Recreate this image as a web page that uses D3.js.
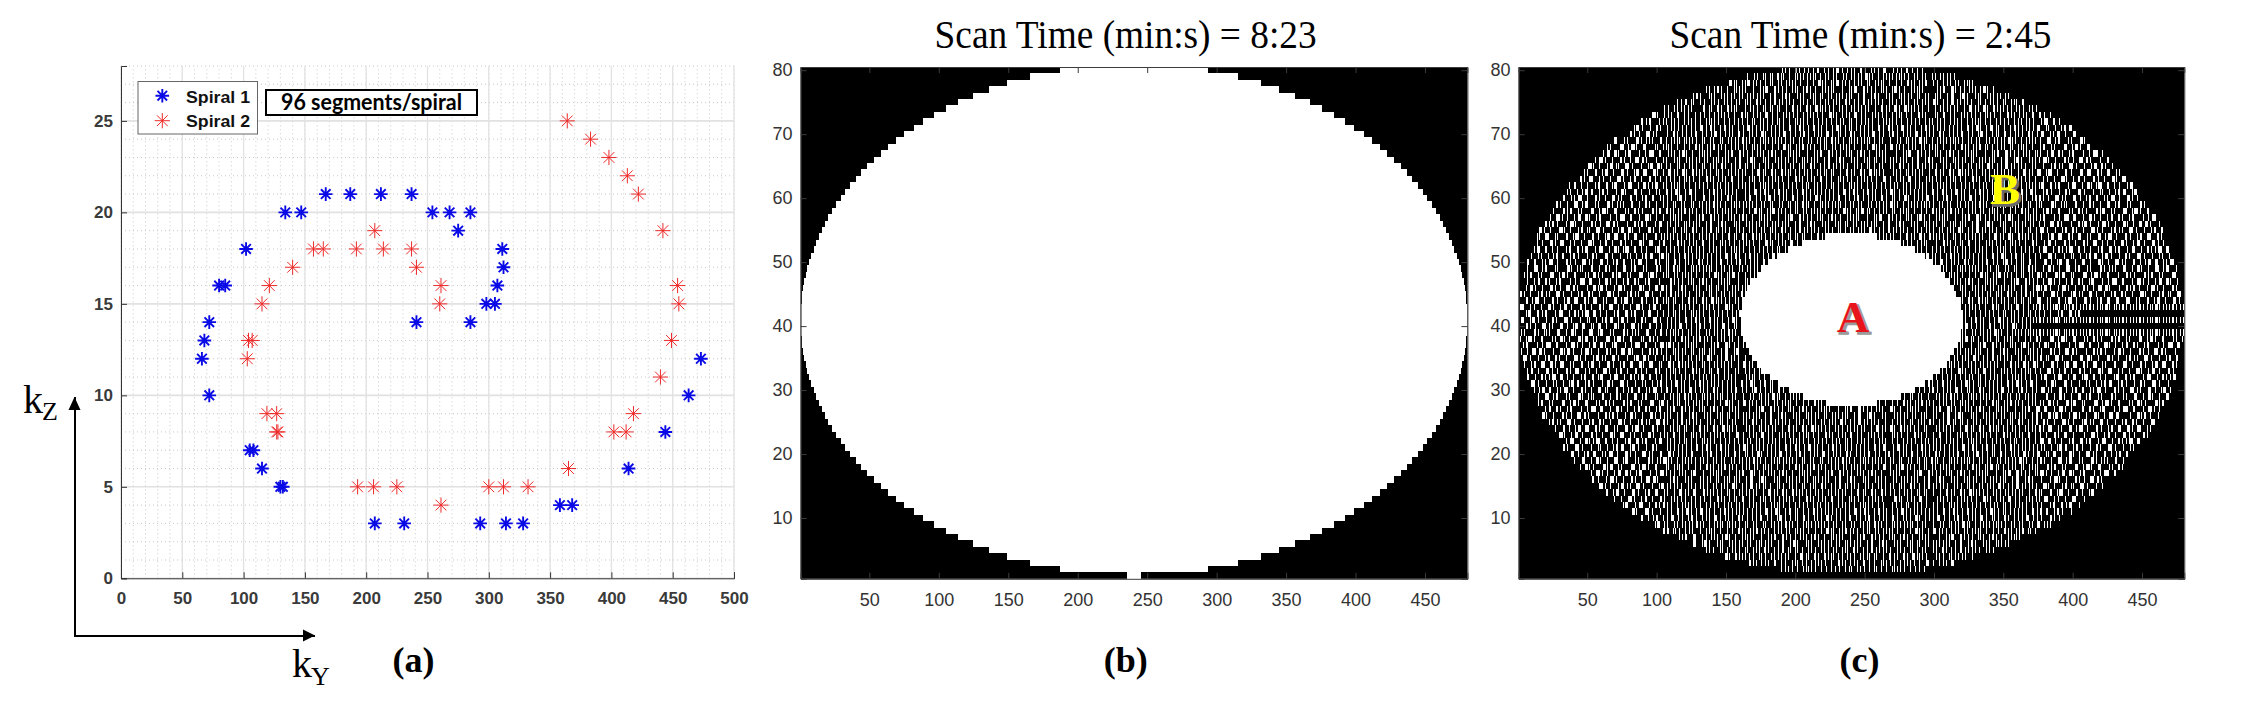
<!DOCTYPE html>
<html>
<head>
<meta charset="utf-8">
<script src="https://cdn.jsdelivr.net/npm/d3@7"></script>
<style>
  html, body { margin: 0; background: #fff; }
  svg { display: block; }
</style>
</head>
<body>
<svg></svg>
<script>
const width = 2266;
const height = 710;

// panel (a)
const spiral1Ky = [167,187,212,237,134,147,254,268,285,275,102,311,312,80,85,307,298,305,72,241,285,68,66,473,72,463,444,105,108,115,414,130,132,358,368,207,231,293,314,328];
const spiral1Kz = [21,21,21,21,20,20,20,20,20,19,18,18,17,16,16,16,15,15,14,14,14,13,12,12,10,10,8,7,7,6,6,5,5,4,4,3,3,3,3,3];
const spiral2Ky = [364,383,398,413,422,207,442,157,165,192,214,237,140,241,121,261,454,115,260,455,104,107,449,103,440,119,127,418,127,128,402,412,365,193,206,225,300,312,332,261];
const spiral2Kz = [25,24,23,22,21,19,19,18,18,18,18,18,17,17,16,16,16,15,15,15,13,13,13,12,11,9,9,9,8,8,8,8,6,5,5,5,5,5,5,4];
const xTicksA = [0,50,100,150,200,250,300,350,400,450,500];
const yTicksA = [0,5,10,15,20,25];
const legendLabels = ['Spiral 1','Spiral 2'];

// panels (b), (c): image axes
const xTicksImg = [50,100,150,200,250,300,350,400,450];
const yTicksImg = [10,20,30,40,50,60,70,80];

// half width (in columns) of the white mask, by distance of the row from row 41
const outerHalfWidth = [240,239.9,239.7,239.3,238.8,238.1,237.3,236.3,235.2,233.8,232.4,230.7,228.9,227,224.8,222.5,220,217.2,214.3,211.2,207.8,204.3,200.4,196.3,192,187.3,182.4,177.1,171.4,165.3,158.7,151.7,144,135.6,126.4,116.2,104.6,91.2,75,53.4,5];
const innerHalfWidth = [80,79.8,79.1,77.9,76.3,74.2,71.4,68.1,64,59,52.9,45.2,34.8,17.6];

// panel (c) texture: hand transcribed stripe patches, the real cells are too fine to read one by one
const centerPatch = [
  '#..#..##...#..#...#.##..#...#..#.#...##..#...#.#..#...##.#...#..',
  '#..#..#...##..#..##.#...#..##..#.#...#...#..##.#..#..#.#..#..#..',
  '.#.#..#...#...#.#.#.#..#...#...#..#..#..#...#..#.#...#.#..#...#.',
  '.#....#.#.#..#..#...#..#.#.#..#...#....##.#.#...#..#.#...##...#.',
  '.#.#....#...##..#.#...##.#...##.#.#.#..#..#...#.#..#...#.#..#.#.',
  '#..#.#..#.#..#....#.#..#...#.#..#...#.#...#.#.#...##.#...#..#..#',
  '#....#.##.#.....#.#.#....#.#.#..#.#...#.#...#.#.#..#.#.#....#..#',
  '#.#..#..#...#.#.#...#.##.#...#....#.#.#.#.#.....#....#.#.##....#',
  '..#.#...#.#.#.#...#....#...#...##.#.#...#.#.##..#.#..#...#..#.#.',
  '.##.#.#...#...#.#.#.#..#.#.#.#..#...#.#...#.#....#.#...#.#..#.#.'
];
const sidePatch = [
  '##....#.#..###...#.....##.#...#....###..#.#.....##...#...#.##...',
  '...#.#....#...#.##..##....#.##..#.....#...##.#.....###..#.....#.',
  '#.###...##...#...#.....#.##....##..#.##.....#..###....#...##.#..',
  '..#...#.....##.#...###....#..#....#....###.#....#..##...#.....##',
  '.##.#...###....#.#.....##...#.###...#.....##..#....#.##...###...',
  '#...##.#....#.....###.#...#.....#.##..#.#....###..#.....#....#.#',
  '...#....##.#.##..#.....#..###.#....#.....##.#...#...###..##.#...',
  '##...##.....#...###.#...#....#..##...##.#....#.##......#...#..##',
  '..#.#...##.#..#......##.#.##....#.#......###...#.###.#....##....',
  '#.....##....#...##.#....#....###...#.##.....#.#......##.#...#.#.'
];
const rowShift = [0,23,9,41,17,52,31,6,46,13,37,27,58,3,19];
// dashed / empty stretches on the right of panel (c): [row, first column]
const streakRows = [[39,372],[41,372],[43,372]];
const gapRows = [[40,372],[42,410]];
const streakPatch = '#.#.##.#..#.';

const svg = d3.select('svg').attr('width', width).attr('height', height);

drawPanelA();
drawImagePanel(800.6, 1467.4, bRuns(), xTicksImg, yTicksImg, 0);
drawImagePanel(1518.6, 2184.3, cRuns(), xTicksImg, yTicksImg, 0.4);
drawTexts();

function drawPanelA() {
  const x = d3.scaleLinear().domain([0, 500]).range([121, 734]);
  const y = d3.scaleLinear().domain([0, 28]).range([578.3, 66]);
  const g = svg.append('g');

  // minor grid (dotted)
  g.selectAll('.minorx').data(d3.range(0, 501, 10)).enter().append('line')
    .attr('x1', d => x(d)).attr('x2', d => x(d))
    .attr('y1', y(0)).attr('y2', y(28))
    .style('stroke', '#c9c9c9').style('stroke-dasharray', '1,3');
  g.selectAll('.minory').data(d3.range(0, 29, 1)).enter().append('line')
    .attr('x1', x(0)).attr('x2', x(500))
    .attr('y1', d => y(d)).attr('y2', d => y(d))
    .style('stroke', '#c9c9c9').style('stroke-dasharray', '1,3');
  // major grid
  g.selectAll('.majorx').data(xTicksA).enter().append('line')
    .attr('x1', d => x(d)).attr('x2', d => x(d))
    .attr('y1', y(0)).attr('y2', y(28))
    .style('stroke', '#e2e2e2').style('stroke-width', 1.3);
  g.selectAll('.majory').data(yTicksA).enter().append('line')
    .attr('x1', x(0)).attr('x2', x(500))
    .attr('y1', d => y(d)).attr('y2', d => y(d))
    .style('stroke', '#e2e2e2').style('stroke-width', 1.6);

  const xAxis = g.append('g').attr('transform', `translate(0,${y(0)})`)
    .call(d3.axisBottom(x).tickValues(xTicksA).tickSize(-6).tickPadding(14));
  const yAxis = g.append('g').attr('transform', `translate(${x(0)},0)`)
    .call(d3.axisLeft(y).tickValues(yTicksA).tickSize(-6).tickPadding(8));
  [xAxis, yAxis].forEach(a => {
    a.selectAll('path,line').style('stroke', '#333');
    a.selectAll('text').style('font', 'bold 17px "Liberation Sans"').style('fill', '#3a3a3a');
  });

  drawMarkers(g, spiral1Ky.map((d, i) => [x(d), y(spiral1Kz[i])]), '#0a0ae6', 1.9, 6.8);
  drawMarkers(g, spiral2Ky.map((d, i) => [x(d), y(spiral2Kz[i])]), '#ee2a2a', 1, 7.6);

  // legend
  g.append('rect').attr('x', 138).attr('y', 81.5).attr('width', 119.5).attr('height', 52.5)
    .style('fill', '#fff').style('stroke', '#666');
  drawMarkers(g, [[162.3, 95.7]], '#0a0ae6', 1.9, 6.8);
  drawMarkers(g, [[162.3, 120.7]], '#ee2a2a', 1, 7.6);
  g.selectAll('.legtext').data(legendLabels).enter().append('text')
    .attr('x', 186).attr('y', (d, i) => 102.7 + i * 24.4)
    .attr('textLength', 64).attr('lengthAdjust', 'spacingAndGlyphs')
    .style('font', 'bold 17px "Liberation Sans"').style('fill', '#111')
    .text(d => d);

  g.append('rect').attr('x', 266).attr('y', 90).attr('width', 211).attr('height', 25)
    .style('fill', '#fff').style('stroke', '#000').style('stroke-width', 2);
  g.append('text').attr('x', 281).attr('y', 109.5)
    .attr('textLength', 181).attr('lengthAdjust', 'spacingAndGlyphs')
    .style('font', 'bold 23px Lato').style('fill', '#000')
    .text('96 segments/spiral');
}

function drawMarkers(g, pts, color, sw, r) {
  const d = r * Math.SQRT1_2;
  const star = `M${-r},0H${r}M0,${-r}V${r}M${-d},${-d}L${d},${d}M${-d},${d}L${d},${-d}`;
  g.append('g').selectAll('path').data(pts).enter().append('path')
    .attr('transform', p => `translate(${p[0]},${p[1]})`)
    .attr('d', star)
    .style('fill', 'none').style('stroke', color).style('stroke-width', sw);
}

// white runs per row, panel (b)
function bRuns() {
  const runs = [];
  for (let row = 1; row <= 80; row++) {
    const hw = outerHalfWidth[Math.abs(row - 41)];
    runs.push({row: row, from: 240.5 - hw, to: 240.5 + hw});
  }
  return runs;
}

function cellC(row, col) {
  const d = Math.abs(row - 41);
  const dx = Math.abs(col - 240.5);
  if (d > 39 || dx > outerHalfWidth[d]) return false;
  if (d < innerHalfWidth.length && dx <= innerHalfWidth[d]) return true;
  if (gapRows.some(r => r[0] === row && col >= r[1])) return false;
  if (streakRows.some(r => r[0] === row && col >= r[1])) return streakPatch[col % streakPatch.length] === '#';
  const patch = dx > 135 ? sidePatch : centerPatch;
  const line = patch[row % patch.length];
  const shift = rowShift[Math.floor(row / patch.length) % rowShift.length];
  return line[(col + shift) % line.length] === '#';
}

// white runs per row, panel (c)
function cRuns() {
  const runs = [];
  for (let row = 1; row <= 80; row++) {
    let start = null;
    for (let col = 1; col <= 481; col++) {
      const on = col <= 480 && cellC(row, col);
      if (on && start === null) start = col;
      if (!on && start !== null) {
        runs.push({row: row, from: start - 0.5, to: col - 0.5});
        start = null;
      }
    }
  }
  return runs;
}

function drawImagePanel(left, right, runs, xTicks, yTicks, inset) {
  const x = d3.scaleLinear().domain([0.5, 480.5]).range([left, right]);
  const y = d3.scaleLinear().domain([0.5, 80.5]).range([578.8, 67]);
  const g = svg.append('g');

  g.append('rect').attr('x', left).attr('y', 67)
    .attr('width', right - left).attr('height', 578.8 - 67)
    .style('fill', '#000');
  g.append('g').selectAll('rect').data(runs).enter().append('rect')
    .attr('x', d => x(d.from))
    .attr('width', d => x(d.to) - x(d.from) - inset)
    .attr('y', d => y(d.row + 0.5))
    .attr('height', d => y(d.row - 0.5) - y(d.row + 0.5))
    .attr('shape-rendering', 'crispEdges')
    .style('fill', '#fff');

  const axes = [
    g.append('g').attr('transform', `translate(0,578.8)`).call(d3.axisBottom(x).tickValues(xTicks).tickSize(-6).tickPadding(14)),
    g.append('g').attr('transform', `translate(${left},0)`).call(d3.axisLeft(y).tickValues(yTicks).tickSize(-6).tickPadding(8)),
    g.append('g').attr('transform', `translate(0,67)`).call(d3.axisTop(x).tickValues(xTicks).tickSize(-6).tickFormat('')),
    g.append('g').attr('transform', `translate(${right},0)`).call(d3.axisRight(y).tickValues(yTicks).tickSize(-6).tickFormat(''))
  ];
  axes.forEach(a => {
    a.selectAll('path,line').style('stroke', '#3c3c3c');
    a.selectAll('text').style('font', '18px "Liberation Sans"').style('fill', '#333');
  });
}

function drawTexts() {
  const serif = '"Liberation Serif"';
  // titles
  [['Scan Time (min:s) = 8:23', 934.6], ['Scan Time (min:s) = 2:45', 1669.5]].forEach(t => {
    svg.append('text').attr('x', t[1]).attr('y', 48)
      .attr('textLength', 382).attr('lengthAdjust', 'spacingAndGlyphs')
      .style('font', `40px ${serif}`).style('fill', '#000').text(t[0]);
  });
  // panel letters
  [['(a)', 413.5], ['(b)', 1125.7], ['(c)', 1859.5]].forEach(t => {
    svg.append('text').attr('x', t[1]).attr('y', 672).attr('text-anchor', 'middle')
      .style('font', `bold 36px ${serif}`).style('fill', '#000').text(t[0]);
  });
  // kZ, kY
  [['k', 'Z', 23, 412.7], ['k', 'Y', 292, 677]].forEach(t => {
    svg.append('text').attr('x', t[2]).attr('y', t[3])
      .style('font', `40px ${serif}`).style('fill', '#000').text(t[0]);
    svg.append('text').attr('x', t[2] + 19).attr('y', t[3] + 7.5)
      .style('font', `26px ${serif}`).style('fill', '#000').text(t[1]);
  });
  // arrows
  svg.append('path').attr('d', 'M75,397V636H315')
    .style('fill', 'none').style('stroke', '#000').style('stroke-width', 2);
  svg.append('path').attr('d', 'M74.5,397L68.5,410H80.5Z').style('fill', '#000');
  svg.append('path').attr('d', 'M315,635.5L303,629.5V641.5Z').style('fill', '#000');
  // A and B
  [['A', 1853, 332, '#e8141c', '#9a9a9a'], ['B', 2005, 204, '#ffff00', '#6a6a6a']].forEach(t => {
    svg.append('text').attr('x', t[1] + 2).attr('y', t[2] + 2).attr('text-anchor', 'middle')
      .style('font', `bold 45px ${serif}`).style('fill', t[4])
      .style('stroke', t[4]).style('stroke-width', 1.5).text(t[0]);
    svg.append('text').attr('x', t[1]).attr('y', t[2]).attr('text-anchor', 'middle')
      .style('font', `bold 45px ${serif}`).style('fill', t[3]).text(t[0]);
  });
}
</script>
</body>
</html>
